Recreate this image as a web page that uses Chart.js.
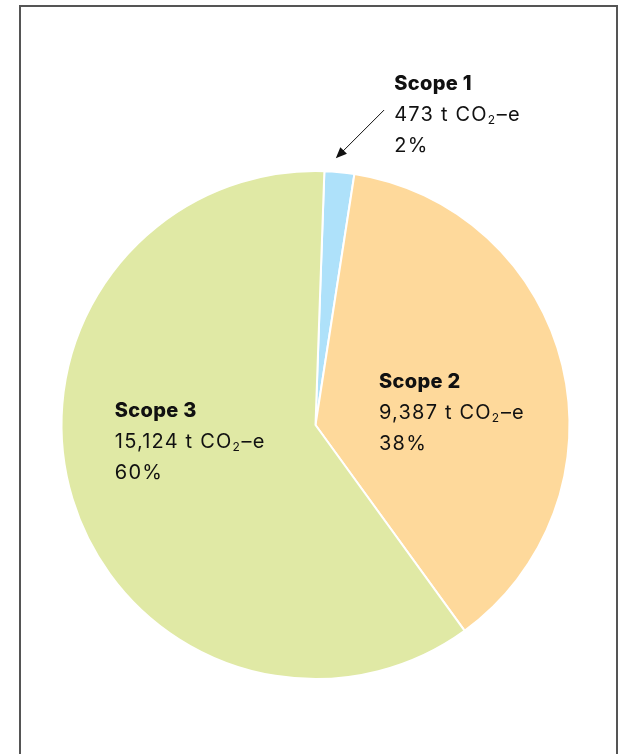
<!DOCTYPE html>
<html>
<head>
<meta charset="utf-8">
<script src="https://cdn.jsdelivr.net/npm/chart.js@4"></script>
<style>
  html, body { margin: 0; padding: 0; background: #fff; overflow: hidden; }
  #frame {
    position: absolute; left: 19px; top: 5px; width: 595px; height: 800px;
    border: 2px solid #555; border-bottom: none; box-sizing: content-box;
  }
  #wrap { position: absolute; left: 0; top: 0; width: 619px; height: 754px; }
</style>
</head>
<body>
<div id="frame"></div>
<div id="wrap"><canvas id="scopeChart"></canvas></div>
<script>
var scopes = ['Scope 1', 'Scope 2', 'Scope 3'];
var tonnes = [473, 9387, 15124];
var shares = ['2%', '38%', '60%'];
var colours = ['#aee1fa', '#fed99b', '#e0e9a5'];

var FONT = 'Inter, "Open Sans", sans-serif';

function fmt(n) {
    return n.toLocaleString('en-US');
}

// text block for a slice: bold name, amount with subscript 2, share
function drawBlock(ctx, x, y, i) {
    ctx.textBaseline = 'alphabetic';
    ctx.textAlign = 'left';
    ctx.fillStyle = '#111';
    ctx.letterSpacing = '0.3px';
    ctx.font = '800 20px ' + FONT;
    ctx.fillText(scopes[i], x, y);
    ctx.letterSpacing = '1.2px';
    ctx.font = '20px ' + FONT;
    var a = fmt(tonnes[i]) + ' t CO';
    ctx.fillText(a, x, y + 31);
    var w = ctx.measureText(a).width;
    ctx.font = '12px ' + FONT;
    ctx.fillText('2', x + w, y + 34);
    var w2 = ctx.measureText('2').width;
    ctx.font = '20px ' + FONT;
    ctx.fillText('\u2013e', x + w + w2 + 0.5, y + 31);
    ctx.fillText(shares[i], x, y + 62);
    ctx.letterSpacing = '0px';
}

var labelPlugin = {
    id: 'scopeLabels',
    afterDraw: function (chart) {
        var ctx = chart.ctx;
        var arc = chart.getDatasetMeta(0).data[0];
        var cx = arc.x, cy = arc.y, r = arc.outerRadius;
        ctx.save();
        // Scope 2 and 3 sit inside their slices
        drawBlock(ctx, cx + 0.25 * r, cy - 0.15 * r + 1, 1);
        drawBlock(ctx, cx - 0.79 * r, cy - 0.03 * r, 2);
        // Scope 1 sits outside with an arrow to its slice
        drawBlock(ctx, cx + 0.31 * r, cy - 1.32 * r, 0);
        var x1 = cx + 0.27 * r, y1 = cy - 1.24 * r;
        var x2 = cx + 0.08 * r, y2 = cy - 1.05 * r;
        ctx.strokeStyle = '#111';
        ctx.fillStyle = '#111';
        ctx.lineWidth = 1;
        ctx.beginPath();
        ctx.moveTo(x1, y1);
        ctx.lineTo(x2 + 5, y2 - 5);
        ctx.stroke();
        var ang = Math.atan2(y2 - y1, x2 - x1);
        ctx.beginPath();
        ctx.moveTo(x2, y2);
        ctx.lineTo(x2 - 12 * Math.cos(ang - 0.4), y2 - 12 * Math.sin(ang - 0.4));
        ctx.lineTo(x2 - 12 * Math.cos(ang + 0.4), y2 - 12 * Math.sin(ang + 0.4));
        ctx.closePath();
        ctx.fill();
        ctx.restore();
    }
};

new Chart('scopeChart', {
    type: 'pie',
    data: {
        labels: scopes,
        datasets: [{
            data: tonnes,
            backgroundColor: colours,
            borderColor: '#fff',
            borderWidth: 2
        }]
    },
    options: {
        responsive: true,
        maintainAspectRatio: false,
        animation: false,
        rotation: 2,
        layout: { padding: { left: 60, right: 48, top: 170, bottom: 74 } },
        plugins: {
            legend: { display: false },
            tooltip: { enabled: false }
        }
    },
    plugins: [labelPlugin]
});
</script>
</body>
</html>
